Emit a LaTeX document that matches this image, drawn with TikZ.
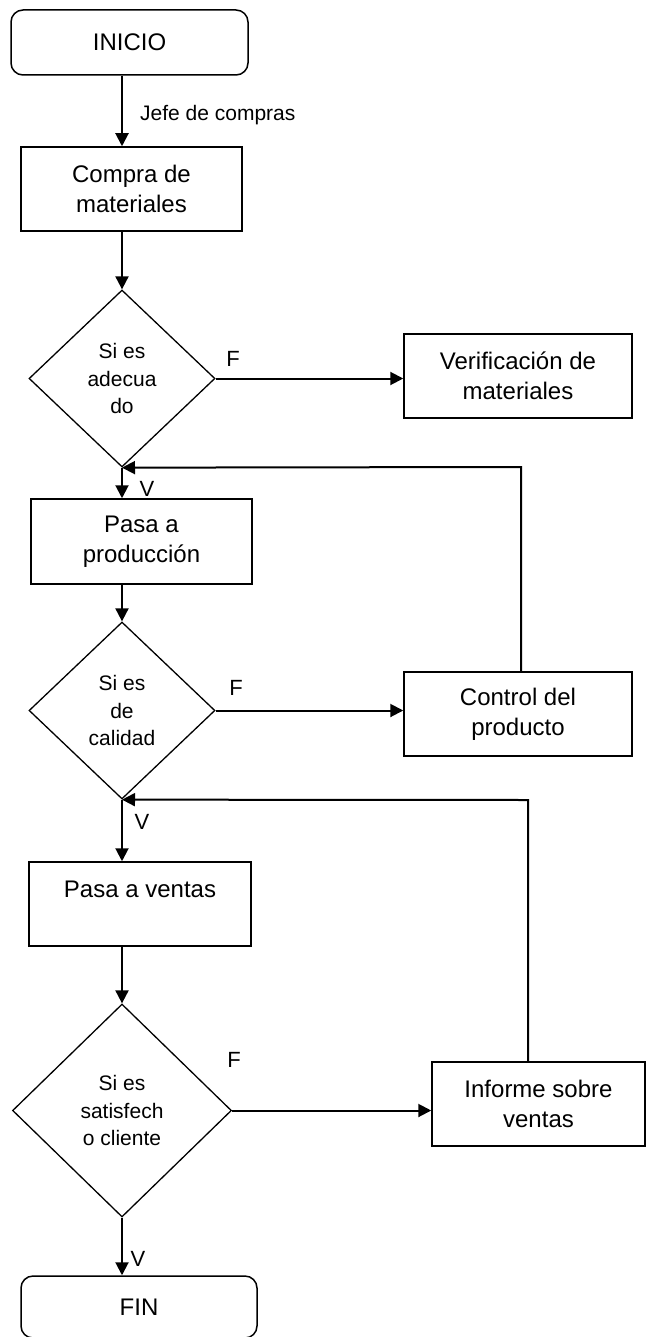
\documentclass[tikz,border=0pt]{standalone}
\usepackage{fontspec}
\setmainfont{Liberation Sans}
\usetikzlibrary{shapes.geometric,arrows.meta}
\begin{document}
\begin{tikzpicture}[x=1pt,y=-1pt,
  every node/.style={font=\fontsize{24}{30}\selectfont},
  procbox/.style={draw,line width=1.5pt,rectangle,inner sep=0pt,align=center},
  termbox/.style={draw,line width=1.5pt,rectangle,rounded corners=12pt,inner sep=0pt,align=center},
  decbox/.style={draw,line width=1.3pt,diamond,inner sep=0pt,align=center,font=\fontsize{21}{27.5}\selectfont},
  arr/.style={line width=2pt,-{Triangle[length=13pt,width=13pt]}},
  lbl/.style={inner sep=0pt,font=\fontsize{22}{26}\selectfont},
  small/.style={inner sep=0pt,font=\fontsize{21}{26}\selectfont,anchor=west}]
\useasboundingbox (0,0) rectangle (647,1337);
\coordinate (axis) at (122,0);
% nodes
\node[termbox,minimum width=237pt,minimum height=65pt] (inicio) at (129.5,42.5) {INICIO};
\node[procbox,minimum width=221pt,minimum height=84pt] (compra) at (131.5,189) {Compra de\\materiales};
\node[decbox,minimum width=186pt,minimum height=177pt] (d1) at (122,378.5) {Si es\\adecua\\do};
\node[procbox,minimum width=228pt,minimum height=84pt] (verif) at (518,376) {Verificación de\\materiales};
\node[procbox,minimum width=221pt,minimum height=85pt] (prod) at (141.5,541.5) {Pasa a\\producción};
\node[decbox,minimum width=186pt,minimum height=177pt] (d2) at (122,710.5) {Si es\\de\\calidad};
\node[procbox,minimum width=228pt,minimum height=84pt] (control) at (518,714) {Control del\\producto};
\node[procbox,minimum width=222pt,minimum height=84pt] (ventas) at (140,904) {Pasa a ventas\\\mbox{}};
\node[decbox,minimum width=219pt,minimum height=213pt] (d3) at (122,1110.5) {Si es\\satisfech\\o cliente};
\node[procbox,minimum width=213pt,minimum height=84pt] (informe) at (538.5,1104) {Informe sobre\\ventas};
\node[termbox,minimum width=236pt,minimum height=62pt] (fin) at (139,1307) {FIN};
% labels
\node[small] (jefe) at (140,115) {Jefe de compras};
\node[lbl] (f1) at (233,359) {F};
\node[lbl] (f2) at (236,688) {F};
\node[lbl] (f3) at (234,1060) {F};
\node[lbl] (v1) at (147,489) {V};
\node[lbl] (v2) at (142,822) {V};
\node[lbl] (v3) at (138,1259) {V};
% connectors
\draw[arr] (inicio.south -| axis) -- (compra.north -| axis);
\draw[arr] (compra.south -| axis) -- (d1.north);
\draw[arr] (d1.east) -- (d1.east -| verif.west);
\draw[arr] (d1.south) -- (prod.north -| axis);
\draw[arr] (prod.south -| axis) -- (d2.north);
\draw[arr] (d2.east) -- (d2.east -| control.west);
\draw[arr] (d2.south) -- (ventas.north -| axis);
\draw[arr] (ventas.south -| axis) -- (d3.north);
\draw[arr] (d3.east) -- (d3.east -| informe.west);
\draw[arr] (d3.south) -- (fin.north -| axis);
\coordinate (fb1) at (521,467);
\coordinate (fb2) at (528,800);
\draw[arr] (control.north -| fb1) -- (fb1) -- (d1.south);
\draw[arr] (informe.north -| fb2) -- (fb2) -- (d2.south);
\end{tikzpicture}
\end{document}
